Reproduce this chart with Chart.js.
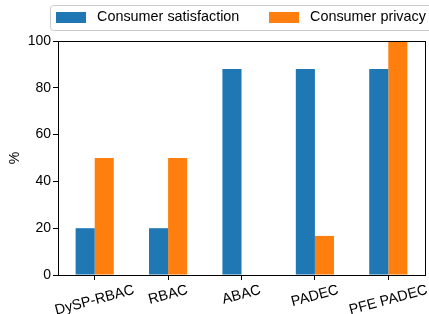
<!DOCTYPE html>
<html>
<head>
<meta charset="utf-8">
<script src="https://cdn.jsdelivr.net/npm/chart.js@4/dist/chart.umd.min.js"></script>
<style>
html,body{margin:0;padding:0;background:#fff;}
#wrap{width:429px;height:314px;position:relative;}
</style>
</head>
<body>
<div id="wrap"><canvas id="c" width="429" height="314"></canvas></div>
<script>
const categories = ["DySP-RBAC", "RBAC", "ABAC", "PADEC", "PFE PADEC"];
const satisfaction = [20, 20, 88, 88, 88];
const privacy = [50, 50, 0, 16.7, 100];
const seriesNames = ["Consumer satisfaction", "Consumer privacy"];
const yTicks = [0, 20, 40, 60, 80, 100];

const FONT = '"Liberation Sans", Arial, sans-serif';
Chart.defaults.font.family = FONT;
Chart.defaults.font.size = 14;
Chart.defaults.color = '#000';

const framePlugin = {
  id: 'frame',
  afterDraw(chart) {
    const {ctx, chartArea: a, scales} = chart;
    ctx.save();
    ctx.strokeStyle = '#000';
    ctx.lineWidth = 1;
    ctx.strokeRect(Math.round(a.left) + 0.5, Math.round(a.top) + 0.5,
                   Math.round(a.right - a.left), Math.round(a.bottom - a.top));
    // rotated x labels, centered under ticks
    const x = scales.x;
    ctx.font = '14.4px ' + FONT;
    ctx.fillStyle = '#000';
    ctx.textAlign = 'center';
    ctx.textBaseline = 'middle';
    const ang = 15 * Math.PI / 180;
    categories.forEach((lab, i) => {
      const px = x.getPixelForTick(i);
      const w = ctx.measureText(lab).width;
      const h = 14;
      const bh = w * Math.sin(ang) + h * Math.cos(ang);
      const top = a.bottom + 8;
      ctx.save();
      ctx.translate(px, top + bh / 2);
      ctx.rotate(-ang);
      ctx.fillText(lab, 0, 0);
      ctx.restore();
    });
    // legend
    ctx.strokeStyle = '#cccccc';
    ctx.lineWidth = 1;
    ctx.beginPath();
    const lx = 50.5, ly = 5.5, lw = 390, lh = 25, r = 3;
    ctx.moveTo(lx + r, ly);
    ctx.lineTo(lx + lw - r, ly);
    ctx.arcTo(lx + lw, ly, lx + lw, ly + r, r);
    ctx.lineTo(lx + lw, ly + lh - r);
    ctx.arcTo(lx + lw, ly + lh, lx + lw - r, ly + lh, r);
    ctx.lineTo(lx + r, ly + lh);
    ctx.arcTo(lx, ly + lh, lx, ly + lh - r, r);
    ctx.lineTo(lx, ly + r);
    ctx.arcTo(lx, ly, lx + r, ly, r);
    ctx.stroke();
    const items = [{sx: 56, tx: 97}, {sx: 269, tx: 310}];
    chart.data.datasets.forEach((ds, i) => {
      ctx.fillStyle = ds.backgroundColor;
      ctx.fillRect(items[i].sx, 12, 30, 11);
      ctx.fillStyle = '#000';
      ctx.textAlign = 'left';
      ctx.textBaseline = 'middle';
      ctx.fillText(ds.label, items[i].tx, 17.5);
    });
    ctx.restore();
  }
};

new Chart(document.getElementById('c'), {
  type: 'bar',
  data: {
    labels: categories,
    datasets: [
      {label: seriesNames[0], data: satisfaction, backgroundColor: '#1f77b4', borderWidth: 0,
       categoryPercentage: 0.52, barPercentage: 1.0},
      {label: seriesNames[1], data: privacy, backgroundColor: '#ff7f0e', borderWidth: 0,
       categoryPercentage: 0.52, barPercentage: 1.0}
    ]
  },
  options: {
    responsive: false,
    animation: false,
    devicePixelRatio: 1,
    layout: {padding: {top: 41, right: 4, bottom: 34, left: 0}},
    plugins: {legend: {display: false}, tooltip: {enabled: false}},
    scales: {
      x: {
        grid: {display: true, drawOnChartArea: false, offset: false, tickLength: 5, tickColor: '#000'},
        border: {display: true, color: '#000'},
        ticks: {display: false}
      },
      y: {
        min: 0, max: 100,
        afterBuildTicks(scale) { scale.ticks = yTicks.map(v => ({value: v})); },
        afterFit(scale) { scale.width = 58; },
        grid: {display: true, drawOnChartArea: false, tickLength: 5, tickColor: '#000'},
        border: {display: true, color: '#000'},
        ticks: {padding: 2, font: {size: 14}, color: '#000'},
        title: {display: true, text: '%', font: {size: 14}, padding: {top: 7, bottom: 0}}
      }
    }
  },
  plugins: [framePlugin]
});
</script>
</body>
</html>
